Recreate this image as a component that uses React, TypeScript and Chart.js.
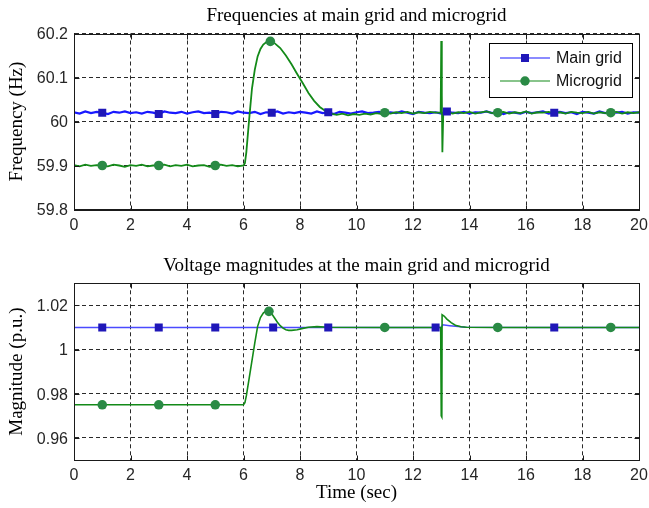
import React, { useEffect, useRef } from "react";
import { Chart, registerables } from "chart.js";

Chart.register(...registerables);

// ---------- DATA ----------
const xTicks = [0, 2, 4, 6, 8, 10, 12, 14, 16, 18, 20];
const freqTicks = [59.8, 59.9, 60, 60.1, 60.2];
const voltTicks = [0.96, 0.98, 1, 1.02];

const freqTitle = "Frequencies at main grid and microgrid";
const voltTitle = "Voltage magnitudes at the main grid and microgrid";
const freqYTitle = "Frequency (Hz)";
const voltYTitle = "Magnitude (p.u.)";
const xTitle = "Time (sec)";
const seriesNames = ["Main grid", "Microgrid"];

// Main grid frequency, sampled every 0.2 s from 0 to 20 s
const freqMainStep = 0.2;
const freqMainValues = [
  60.021, 60.018, 60.023, 60.019, 60.022, 60.020, 60.017, 60.022, 60.020, 60.023,
  60.019, 60.021, 60.018, 60.022, 60.020, 60.017, 60.023, 60.020, 60.019, 60.022,
  60.018, 60.021, 60.023, 60.019, 60.020, 60.017, 60.022, 60.021, 60.018, 60.023,
  60.020, 60.019, 60.022, 60.017, 60.021, 60.020, 60.023, 60.018, 60.021, 60.019,
  60.022, 60.020, 60.018, 60.023, 60.019, 60.021, 60.017, 60.022, 60.020, 60.018,
  60.021, 60.023, 60.019, 60.020, 60.022, 60.018, 60.021, 60.019, 60.023, 60.020,
  60.017, 60.022, 60.020, 60.019, 60.021, 60.018, 60.023, 60.020, 60.019, 60.022,
  60.018, 60.021, 60.020, 60.023, 60.019, 60.022, 60.017, 60.021, 60.020, 60.018,
  60.022, 60.019, 60.021, 60.023, 60.018, 60.020, 60.022, 60.019, 60.021, 60.017,
  60.022, 60.020, 60.018, 60.023, 60.019, 60.021, 60.020, 60.022, 60.018, 60.021,
  60.020,
];
const freqMainMarkers = [1, 3, 5, 7, 9, 13.2, 17];

// Microgrid frequency: [time, value]
const freqMicro: [number, number][] = [
  [0, 59.901], [0.2, 59.898], [0.4, 59.902], [0.6, 59.899], [0.8, 59.901],
  [1, 59.9], [1.2, 59.898], [1.4, 59.902], [1.6, 59.9], [1.8, 59.897],
  [2, 59.901], [2.2, 59.899], [2.4, 59.902], [2.6, 59.898], [2.8, 59.9],
  [3, 59.9], [3.2, 59.902], [3.4, 59.898], [3.6, 59.901], [3.8, 59.899],
  [4, 59.902], [4.2, 59.898], [4.4, 59.9], [4.6, 59.901], [4.8, 59.897],
  [5, 59.9], [5.2, 59.902], [5.4, 59.899], [5.6, 59.901], [5.8, 59.898],
  [6.0, 59.9], [6.05, 59.905], [6.1, 59.93], [6.2, 60.005], [6.3, 60.075],
  [6.4, 60.118], [6.5, 60.148], [6.6, 60.165], [6.7, 60.175], [6.8, 60.18],
  [6.95, 60.182], [7.1, 60.178], [7.3, 60.167], [7.5, 60.15], [7.7, 60.13],
  [7.9, 60.108], [8.1, 60.087], [8.3, 60.065], [8.5, 60.047], [8.7, 60.033],
  [8.9, 60.024], [9.1, 60.018], [9.3, 60.015], [9.5, 60.018], [9.7, 60.014],
  [9.9, 60.017], [10.1, 60.015], [10.3, 60.018], [10.5, 60.016], [10.7, 60.019],
  [10.9, 60.017], [11, 60.02], [11.2, 60.018], [11.4, 60.021], [11.6, 60.019],
  [11.8, 60.022], [12.0, 60.018], [12.2, 60.021], [12.4, 60.019], [12.6, 60.022],
  [12.8, 60.02], [12.98, 60.02], [13.0, 60.183], [13.02, 60.06], [13.04, 59.93],
  [13.07, 60.016], [13.2, 60.022], [13.4, 60.018], [13.6, 60.021], [13.8, 60.019],
  [14.0, 60.022], [14.2, 60.018], [14.4, 60.021], [14.6, 60.023], [14.8, 60.019],
  [15, 60.02], [15.2, 60.022], [15.4, 60.018], [15.6, 60.021], [15.8, 60.019],
  [16.0, 60.023], [16.2, 60.018], [16.4, 60.021], [16.6, 60.02], [16.8, 60.022],
  [17.0, 60.019], [17.2, 60.021], [17.4, 60.018], [17.6, 60.022], [17.8, 60.02],
  [18.0, 60.019], [18.2, 60.022], [18.4, 60.018], [18.6, 60.021], [18.8, 60.019],
  [19, 60.02], [19.2, 60.022], [19.4, 60.018], [19.6, 60.021], [19.8, 60.019],
  [20, 60.021],
];
const freqMicroMarkers = [1, 3, 5, 6.95, 11, 15, 19];

// Main grid voltage: [time, value]
const voltMain: [number, number][] = [
  [0, 1.01], [1, 1.01], [3, 1.01], [5, 1.01], [7.05, 1.01], [9, 1.01],
  [12.8, 1.01], [13.0, 1.01], [13.05, 1.0112], [13.3, 1.0108], [13.6, 1.0104],
  [13.85, 1.0101], [17, 1.01], [20, 1.01],
];
const voltMainMarkers = [1, 3, 5, 7.05, 9, 12.8, 17];

// Microgrid voltage: [time, value]
const voltMicro: [number, number][] = [
  [0, 0.975], [1, 0.975], [3, 0.975], [5, 0.975], [6.0, 0.975], [6.05, 0.976],
  [6.1, 0.979], [6.2, 0.987], [6.3, 0.995], [6.4, 1.003], [6.5, 1.0105],
  [6.6, 1.0145], [6.7, 1.0165], [6.8, 1.0175], [6.9, 1.0173], [7.0, 1.0162],
  [7.1, 1.0143], [7.2, 1.0124], [7.3, 1.0108], [7.4, 1.0097], [7.5, 1.009],
  [7.6, 1.0087], [7.7, 1.0087], [7.9, 1.009], [8.1, 1.0096], [8.3, 1.0101],
  [8.6, 1.0104], [9, 1.0101], [11, 1.01], [12.98, 1.01], [13.0, 0.97],
  [13.02, 0.9695], [13.03, 1.0158], [13.1, 1.0152], [13.2, 1.0138],
  [13.35, 1.0122], [13.5, 1.011], [13.7, 1.0103], [13.9, 1.0101], [15, 1.01],
  [19, 1.01], [20, 1.01],
];
const voltMicroMarkers = [1, 3, 5, 6.9, 11, 15, 19];

// ---------- STYLE ----------
const BLUE_LINE = "#1818ff";
const BLUE_LINE_THIN = "#4a4aff";
const BLUE_MARK = "#1f17b8";
const GREEN_LINE = "#138a18";
const GREEN_MARK = "#2a8a45";
const TICK_FONT = { family: "'Liberation Sans', Arial, sans-serif", size: 16 };
const SERIF = "'Liberation Serif', 'Times New Roman', serif";

type P = { x: number; y: number };
const toPts = (arr: [number, number][]): P[] => arr.map(([x, y]) => ({ x, y }));
const pick = (pts: P[], ts: number[]): P[] =>
  ts.map((t) => pts.find((p) => Math.abs(p.x - t) < 1e-6)).filter(Boolean) as P[];

const freqMainPts: P[] = freqMainValues.map((v, i) => ({
  x: Math.round(i * freqMainStep * 100) / 100,
  y: v,
}));

const boxPlugin = {
  id: "matlabBox",
  afterDatasetsDraw(chart: any) {
    const { ctx, chartArea: a, scales } = chart;
    const L = Math.round(a.left) + 0.5;
    const T = Math.round(a.top) + 0.5;
    const R = Math.round(a.right) + 0.5;
    const B = Math.round(a.bottom) + 0.5;
    ctx.save();
    ctx.strokeStyle = "#1a1a1a";
    ctx.lineWidth = 1;
    ctx.strokeRect(L, T, R - L, B - T);
    // inward tick marks (MATLAB style)
    const tl = 5;
    ctx.beginPath();
    scales.x.ticks.forEach((t: any) => {
      const px = Math.round(scales.x.getPixelForValue(t.value)) + 0.5;
      ctx.moveTo(px, B);
      ctx.lineTo(px, B - tl);
      ctx.moveTo(px, T);
      ctx.lineTo(px, T + tl);
    });
    scales.y.ticks.forEach((t: any) => {
      const py = Math.round(scales.y.getPixelForValue(t.value)) + 0.5;
      ctx.moveTo(L, py);
      ctx.lineTo(L + tl, py);
      ctx.moveTo(R, py);
      ctx.lineTo(R - tl, py);
    });
    ctx.stroke();
    ctx.restore();
  },
};

const titlePlugin = {
  id: "matlabTitle",
  afterDraw(chart: any, _args: any, opts: any) {
    const { ctx, chartArea: a } = chart;
    ctx.save();
    ctx.fillStyle = "#000";
    ctx.font = `19px ${SERIF}`;
    ctx.textAlign = "center";
    ctx.textBaseline = "alphabetic";
    ctx.fillText(opts.text, (a.left + a.right) / 2, opts.baseline);
    ctx.restore();
  },
};

const legendPlugin = {
  id: "matlabLegend",
  afterDraw(chart: any) {
    const { ctx } = chart;
    const x0 = 489, y0 = 43, w = 143, h = 54;
    ctx.save();
    ctx.fillStyle = "#fff";
    ctx.fillRect(x0, y0, w, h);
    ctx.strokeStyle = "#000";
    ctx.lineWidth = 1;
    ctx.strokeRect(x0 + 0.5, y0 + 0.5, w, h);
    const rows = [
      { y: 58, line: BLUE_LINE, mark: BLUE_MARK, shape: "rect" },
      { y: 81, line: GREEN_LINE, mark: GREEN_MARK, shape: "circle" },
    ];
    rows.forEach((r, i) => {
      ctx.strokeStyle = r.line;
      ctx.lineWidth = 1.2;
      ctx.beginPath();
      ctx.moveTo(500, r.y);
      ctx.lineTo(550, r.y);
      ctx.stroke();
      ctx.fillStyle = r.mark;
      if (r.shape === "rect") {
        ctx.fillRect(521, r.y - 4, 8, 8);
      } else {
        ctx.beginPath();
        ctx.arc(525, r.y, 4.7, 0, Math.PI * 2);
        ctx.fill();
      }
      ctx.fillStyle = "#111";
      ctx.font = "16px 'Liberation Sans', Arial, sans-serif";
      ctx.textBaseline = "middle";
      ctx.textAlign = "left";
      ctx.fillText(seriesNames[i], 556, r.y + 1);
    });
    ctx.restore();
  },
};

function makeConfig(opts: {
  title: string;
  topPad: number;
  yTitle: string;
  yMin: number;
  yMax: number;
  yTicks: number[];
  xTitle?: string;
  xAxisHeight: number;
  blue: P[];
  green: P[];
  blueMarks: P[];
  greenMarks: P[];
  blueWidth: number;
  blueColor: string;
  greenWidth: number;
  legend: boolean;
}): any {
  const gridCommon = {
    color: "#2a2a2a",
    lineWidth: 1,
    drawTicks: false,
  };
  return {
    type: "line",
    data: {
      datasets: [
        {
          label: seriesNames[0],
          data: opts.blue,
          borderColor: opts.blueColor,
          borderWidth: opts.blueWidth,
          pointRadius: 0,
          tension: 0,
          order: 4,
        },
        {
          label: seriesNames[1],
          data: opts.green,
          borderColor: GREEN_LINE,
          borderWidth: opts.greenWidth,
          pointRadius: 0,
          tension: 0,
          order: 3,
        },
        {
          label: seriesNames[0] + " markers",
          data: opts.blueMarks,
          showLine: false,
          pointStyle: "rect",
          pointRadius: 5.66,
          pointBackgroundColor: BLUE_MARK,
          pointBorderColor: BLUE_MARK,
          pointBorderWidth: 0,
          order: 2,
        },
        {
          label: seriesNames[1] + " markers",
          data: opts.greenMarks,
          showLine: false,
          pointStyle: "circle",
          pointRadius: 4.8,
          pointBackgroundColor: GREEN_MARK,
          pointBorderColor: GREEN_MARK,
          pointBorderWidth: 0,
          order: 1,
        },
      ],
    },
    options: {
      animation: false,
      responsive: false,
      devicePixelRatio: 1,
      events: [],
      layout: { padding: { top: opts.topPad, left: 0, right: 10, bottom: 0 } },
      plugins: {
        legend: { display: false },
        tooltip: { enabled: false },
        title: { display: false },
        matlabTitle: { text: opts.title, baseline: 20.5 },
      },
      scales: {
        x: {
          type: "linear",
          min: 0,
          max: 20,
          afterBuildTicks: (s: any) => {
            s.ticks = xTicks.map((v) => ({ value: v }));
          },
          afterFit: (s: any) => {
            s.height = opts.xAxisHeight;
            s.paddingLeft = 0;
            s.paddingRight = 0;
          },
          ticks: {
            color: "#262626",
            font: TICK_FONT,
            padding: 6,
            maxRotation: 0,
            autoSkip: false,
            callback: (v: any) => String(v),
          },
          grid: gridCommon,
          border: { display: true, color: "#1a1a1a", dash: [4, 3], width: 1 },
          title: opts.xTitle
            ? {
                display: true,
                text: opts.xTitle,
                color: "#000",
                font: { family: SERIF, size: 19 },
                padding: { top: 0, bottom: 3.4 },
              }
            : { display: false },
        },
        y: {
          type: "linear",
          min: opts.yMin,
          max: opts.yMax,
          afterBuildTicks: (s: any) => {
            s.ticks = opts.yTicks.map((v) => ({ value: v }));
          },
          afterFit: (s: any) => {
            s.width = 74;
            s.paddingTop = 0;
            s.paddingBottom = 0;
          },
          ticks: {
            color: "#262626",
            font: TICK_FONT,
            padding: 6,
            labelOffset: 1.5,
            autoSkip: false,
            callback: (v: any) => String(v),
          },
          grid: gridCommon,
          border: { display: true, color: "#1a1a1a", dash: [4, 3], width: 1 },
          title: {
            display: true,
            text: opts.yTitle,
            color: "#000",
            font: { family: SERIF, size: 19 },
            padding: { top: 5.6, bottom: 0 },
          },
        },
      },
    },
    plugins: opts.legend
      ? [titlePlugin, boxPlugin, legendPlugin]
      : [titlePlugin, boxPlugin],
  };
}

export default function App() {
  const topRef = useRef<HTMLCanvasElement>(null);
  const botRef = useRef<HTMLCanvasElement>(null);

  useEffect(() => {
    const freqMicroPts = toPts(freqMicro);
    const voltMainPts = toPts(voltMain);
    const voltMicroPts = toPts(voltMicro);

    const c1 = new Chart(
      topRef.current!,
      makeConfig({
        title: freqTitle,
        topPad: 33.5,
        yTitle: freqYTitle,
        yMin: 59.8,
        yMax: 60.2,
        yTicks: freqTicks,
        xAxisHeight: 40.5,
        blue: freqMainPts,
        green: freqMicroPts,
        blueMarks: pick(freqMainPts, freqMainMarkers),
        greenMarks: pick(freqMicroPts, freqMicroMarkers),
        blueWidth: 2.2,
        blueColor: BLUE_LINE,
        greenWidth: 1.8,
        legend: true,
      })
    );
    const c2 = new Chart(
      botRef.current!,
      makeConfig({
        title: voltTitle,
        topPad: 33.3,
        yTitle: voltYTitle,
        yMin: 0.95,
        yMax: 1.03,
        yTicks: voltTicks,
        xTitle: xTitle,
        xAxisHeight: 48,
        blue: voltMainPts,
        green: voltMicroPts,
        blueMarks: pick(voltMainPts, voltMainMarkers),
        greenMarks: pick(voltMicroPts, voltMicroMarkers),
        blueWidth: 1.5,
        blueColor: BLUE_LINE_THIN,
        greenWidth: 1.6,
        legend: false,
      })
    );
    return () => {
      c1.destroy();
      c2.destroy();
    };
  }, []);

  return (
    <div
      style={{
        position: "absolute",
        left: 0,
        top: 0,
        width: 649,
        height: 508,
        background: "#fff",
      }}
    >
      <canvas
        ref={topRef}
        width={649}
        height={250}
        style={{ position: "absolute", left: 0, top: 0, width: 649, height: 250 }}
      />
      <canvas
        ref={botRef}
        width={649}
        height={258}
        style={{ position: "absolute", left: 0, top: 250, width: 649, height: 258 }}
      />
    </div>
  );
}
